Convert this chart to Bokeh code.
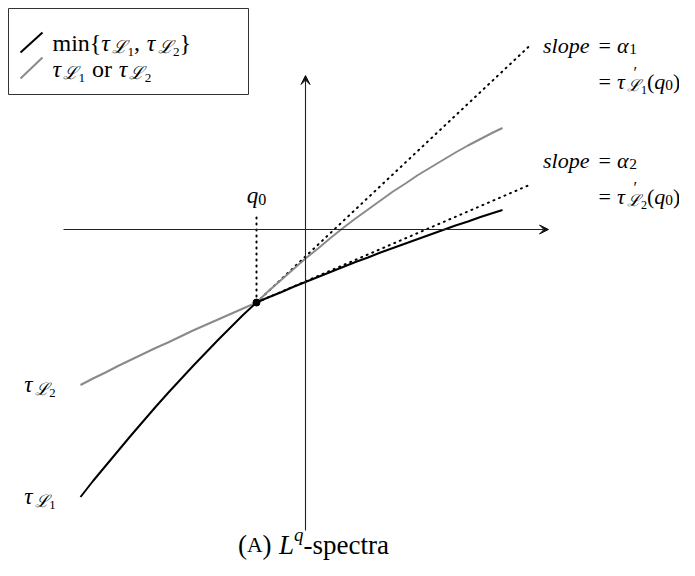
from bokeh.plotting import figure
from bokeh.models import Range1d, Arrow, VeeHead
from bokeh.core.properties import value
from bokeh.embed import file_html
from bokeh.resources import INLINE

# ---------------- data (math units) ----------------
q_left = [-4.5, -4.25, -4.0, -3.75, -3.5, -3.25, -3.0, -2.75, -2.5, -2.25, -2.0, -1.75, -1.5, -1.25, -0.98]
tau1_left = [-5.35, -5.03, -4.73, -4.43, -4.13, -3.84, -3.55, -3.27, -3.00, -2.73, -2.47, -2.21, -1.96, -1.71, -1.46]
tau2_left = [-3.11, -2.98, -2.86, -2.73, -2.61, -2.49, -2.37, -2.26, -2.14, -2.02, -1.91, -1.80, -1.69, -1.58, -1.46]
q_right = [-0.98, -0.75, -0.5, -0.25, 0.0, 0.25, 0.5, 0.75, 1.0, 1.25, 1.5, 1.75, 2.0,
           2.25, 2.5, 2.75, 3.0, 3.25, 3.5, 3.75, 3.94]
tau1_right = [-1.46, -1.24, -1.02, -0.80, -0.58, -0.38, -0.17, 0.03, 0.22, 0.40, 0.58, 0.76, 0.92,
              1.09, 1.24, 1.39, 1.54, 1.68, 1.81, 1.94, 2.03]
tau2_right = [-1.46, -1.36, -1.26, -1.15, -1.05, -0.95, -0.85, -0.75, -0.65, -0.56, -0.46, -0.37, -0.28,
              -0.19, -0.10, -0.01, 0.08, 0.16, 0.25, 0.33, 0.39]
q0 = -0.98
tau_q0 = -1.46
tangent_q = [-0.98, 4.5]
tangent1_tau = [-1.46, 3.69]   # slope alpha1
tangent2_tau = [-1.46, 0.90]   # slope alpha2
q0_guide_tau = [-1.46, 0.34]
axis_q = [-4.84, 4.86]
axis_tau = [-6.02, 3.08]

# ---------------- layout helpers (canvas pixels -> math units) ----------------
SC, OX, OY = 50.0, 305.0, 229.0
def dx(px):
    return (px - OX) / SC
def dy(py):
    return (OY - py) / SC

FONT = "Liberation Serif"
BLACK = "#000000"
GRAY = "#8a8a8a"

p = figure(width=679, height=560, x_range=Range1d(dx(0), dx(679)), y_range=Range1d(dy(560), dy(0)),
           output_backend="svg", toolbar_location=None, min_border=0,
           x_axis_type=None, y_axis_type=None)
p.grid.visible = False
p.outline_line_color = None
p.background_fill_color = "white"
p.border_fill_color = "white"

# axes with arrows
for xs, ys, xe, ye in ((axis_q[0], 0, axis_q[1], 0), (0, axis_tau[0], 0, axis_tau[1])):
    p.add_layout(Arrow(end=VeeHead(size=9, fill_color="#111", line_color="#111", line_width=1),
                       x_start=xs, y_start=ys, x_end=xe, y_end=ye,
                       line_color="#222", line_width=1.1))

# dotted tangents and guide
dot = dict(line_color=BLACK, line_width=2, line_dash="1 5", line_cap="round")
p.line(tangent_q, tangent1_tau, **dot)
p.line(tangent_q, tangent2_tau, **dot)
p.line([q0, q0], q0_guide_tau, **dot)

# curves
p.line(q_left, tau2_left, line_color=GRAY, line_width=2, line_join="round")
p.line(q_right, tau1_right, line_color=GRAY, line_width=2, line_join="round")
p.line(q_left, tau1_left, line_color=BLACK, line_width=2, line_join="round")
p.line(q_right, tau2_right, line_color=BLACK, line_width=2, line_join="round")
p.scatter([q0], [tau_q0], size=7, color=BLACK)

# ---------------- text helpers ----------------
W = {"m": .778, "i": .278, "n": .5, "{": .48, "}": .48, ",": .25, " ": .25, "o": .5, "r": .333,
     "=": .564, "(": .333, ")": .333, "-": .333, "s": .389, "p": .5, "e": .444, "c": .444,
     "t": .278, "a": .444, "A": .722, "l": .278, "τ": .45, "ℒ": .85, "α": .55, "q": .5,
     "L": .556, "′": .3}

def width(s):
    return sum(W.get(c, 0.5) for c in s)

def run(px, py, pieces, size, align="left"):
    # pieces: (text, scale, vertical shift in em, style, advance in em or None, x offset in em)
    def adv(pc):
        t, sc, sh, st, a, xo = pc
        return (width(t) * sc if a is None else a) * size
    total = sum(adv(pc) for pc in pieces)
    x = px
    if align == "right":
        x = px - total
    elif align == "center":
        x = px - total / 2
    for pc in pieces:
        t, sc, sh, st, a, xo = pc
        if t.strip():
            p.text(x=[dx(x + xo * size)], y=[dy(py + sh * size)], text=[t], text_font=value(FONT),
                   text_font_size=f"{size * sc:.1f}px", text_font_style=st,
                   text_baseline="alphabetic", text_align="left", text_color=BLACK)
        x += adv(pc)

def P(t, sc=1, sh=0, st="normal", a=None, xo=0):
    return (t, sc, sh, st, a, xo)

def tauL(k):
    return [P("τ", st="italic"), P("ℒ", .75, .2, "italic"), P(k, .55, .38)]

GAP = P(" ", a=.28)

# legend
LS = 24
p.quad(left=dx(8), right=dx(248), top=dy(8), bottom=dy(94), fill_color="white",
       line_color="#333", line_width=1)
p.line([dx(20), dx(42)], [dy(52), dy(32)], line_color=BLACK, line_width=2)
p.line([dx(20), dx(42)], [dy(78), dy(57)], line_color=GRAY, line_width=2)
run(52, 42, [P("min{")] + tauL("1") + [P(","), GAP] + tauL("2") + [P("}")], LS)
run(52, 68, tauL("1") + [GAP, P("or"), GAP] + tauL("2"), LS)

# left labels
run(55, 384, tauL("2"), 23, align="right")
run(55, 496, tauL("1"), 23, align="right")

# q0 label
run(256, 195, [P("q", st="italic"), P("0", .7, .18)], 23, align="center")

# slope labels
XEQ = 598
FS = 22
for k, yb in (("1", 45), ("2", 160)):
    run(XEQ - 9, yb, [P("slope", st="italic")], FS, align="right")
    run(XEQ, yb, [P("="), GAP, P("α", st="italic"), P(k, .7, .18)], FS)
    run(XEQ, yb + 36, [P("="), GAP, P("τ", st="italic"),
                       P("′", .75, -.4, a=0, xo=.3), P("ℒ", .75, .2, "italic"),
                       P(k, .55, .38), P("("), P("q", st="italic"), P("0", .7, .18), P(")")], FS)

# caption
run(313, 544, [P("("), P("A", .8), P(")"), GAP, P("L", st="italic"), P("q", .7, -.38, "italic"),
               P("-spectra")], 27, align="center")

open("out.html", "w").write(file_html(p, INLINE))
